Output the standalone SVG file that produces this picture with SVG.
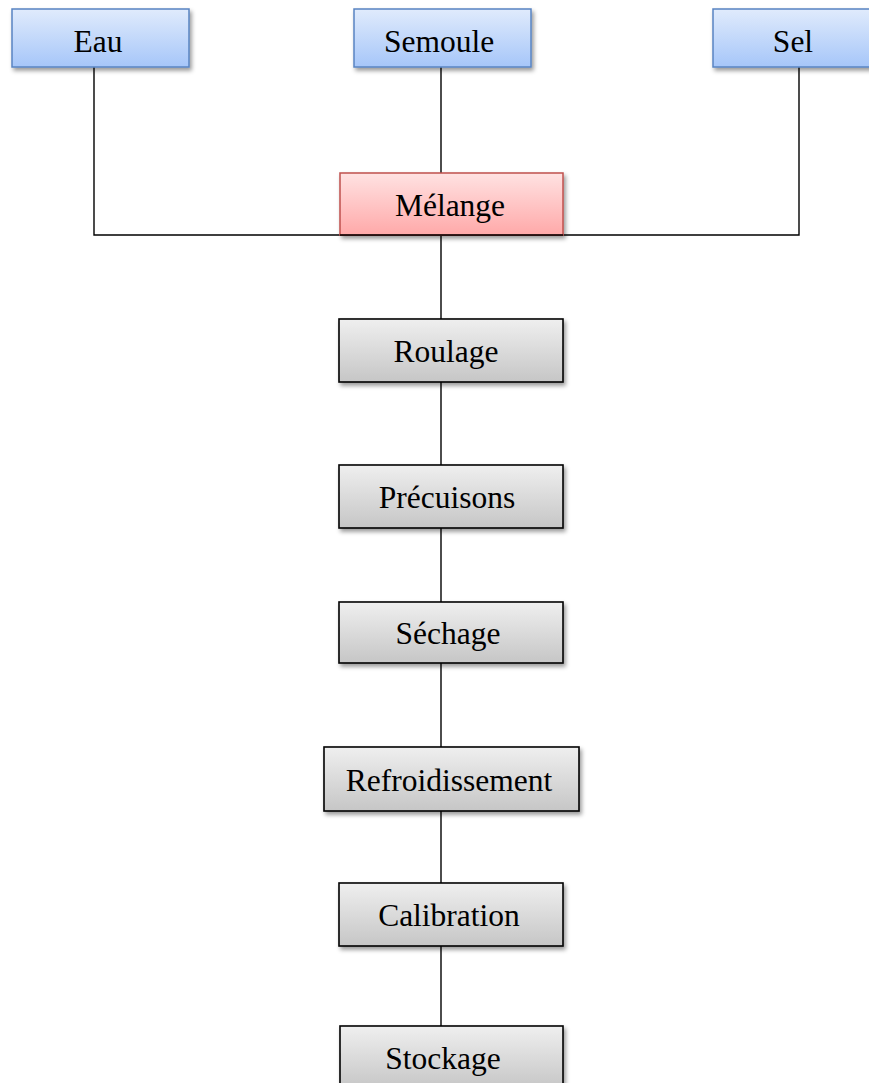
<svg xmlns="http://www.w3.org/2000/svg" width="869" height="1083" viewBox="0 0 869 1083">
<defs>
<linearGradient id="gBlue" x1="0" y1="0" x2="0" y2="1"><stop offset="0" stop-color="#e0ebfc"/><stop offset="1" stop-color="#a6c6f9"/></linearGradient>
<linearGradient id="gRed" x1="0" y1="0" x2="0" y2="1"><stop offset="0" stop-color="#ffe2e2"/><stop offset="1" stop-color="#ffa9a9"/></linearGradient>
<linearGradient id="gGray" x1="0" y1="0" x2="0" y2="1"><stop offset="0" stop-color="#efefef"/><stop offset="1" stop-color="#c6c6c6"/></linearGradient>
<filter id="sh" x="-10%" y="-20%" width="125%" height="150%"><feDropShadow dx="2" dy="3" stdDeviation="2" flood-color="#000" flood-opacity="0.4"/></filter>
</defs>
<style>
.blue{fill:url(#gBlue);stroke:#5884c2;stroke-width:1.5;filter:url(#sh)}
.red{fill:url(#gRed);stroke:#c0504d;stroke-width:1.5;filter:url(#sh)}
.gray{fill:url(#gGray);stroke:#000;stroke-width:1.6;filter:url(#sh)}
.t{font-family:"Liberation Serif","Times New Roman",serif;font-size:31.5px;fill:#000;text-anchor:middle}
.c{fill:none;stroke:#000;stroke-width:1.4}
</style>
<rect width="869" height="1083" fill="#fff"/>
<g id="connectors">
<polyline class="c" points="94,67 94,235 799,235 799,67"/>
<line class="c" x1="441" y1="67" x2="441" y2="173"/>
<line class="c" x1="441" y1="235" x2="441" y2="319"/>
<line class="c" x1="441" y1="382" x2="441" y2="465"/>
<line class="c" x1="441" y1="528" x2="441" y2="602"/>
<line class="c" x1="441" y1="663" x2="441" y2="747"/>
<line class="c" x1="441" y1="811" x2="441" y2="883"/>
<line class="c" x1="441" y1="946" x2="441" y2="1026"/>
</g>
<g id="eau"><rect class="blue" x="12" y="9" width="177" height="58"/><text class="t" x="98" y="52">Eau</text></g>
<g id="semoule"><rect class="blue" x="354" y="9" width="177" height="58"/><text class="t" x="439" y="52">Semoule</text></g>
<g id="sel"><rect class="blue" x="713" y="9" width="167" height="58"/><text class="t" x="793" y="52">Sel</text></g>
<g id="melange"><rect class="red" x="340" y="173" width="223" height="62"/><text class="t" x="450" y="216">Mélange</text></g>
<line class="c" x1="340" y1="235" x2="563" y2="235"/>
<g id="roulage"><rect class="gray" x="339" y="319" width="224" height="63"/><text class="t" x="446" y="362">Roulage</text></g>
<g id="precuisons"><rect class="gray" x="339" y="465" width="224" height="63"/><text class="t" x="447" y="508">Précuisons</text></g>
<g id="sechage"><rect class="gray" x="339" y="602" width="224" height="61"/><text class="t" x="448" y="644">Séchage</text></g>
<g id="refroidissement"><rect class="gray" x="324" y="747" width="255" height="64"/><text class="t" x="449" y="791">Refroidissement</text></g>
<g id="calibration"><rect class="gray" x="339" y="883" width="224" height="63"/><text class="t" x="449" y="926">Calibration</text></g>
<g id="stockage"><rect class="gray" x="340" y="1026" width="223" height="63"/><text class="t" x="443" y="1069">Stockage</text></g>
</svg>
